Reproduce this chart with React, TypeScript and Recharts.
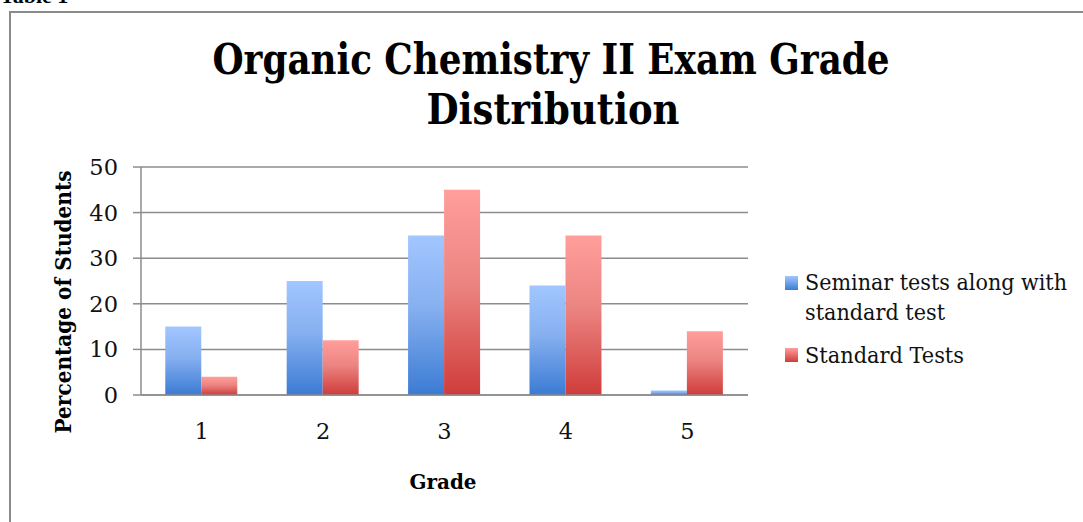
import React from "react";
import { BarChart, Bar, XAxis, YAxis, CartesianGrid } from "recharts";

const grades = ["1", "2", "3", "4", "5"];
const seminarValues = [15, 25, 35, 24, 1];
const standardValues = [4, 12, 45, 35, 14];
const yTicks = [0, 10, 20, 30, 40, 50];

const data = grades.map((g, i) => ({ grade: g, seminar: seminarValues[i], standard: standardValues[i] }));

const FONT = "'DejaVu Serif', 'Liberation Serif', serif";

export default function App() {
  return (
    <div style={{ position: "absolute", left: 0, top: 0, width: 1083, height: 522, overflow: "hidden", background: "#fff" }}>
      <div style={{ position: "absolute", left: 0, top: -15, fontFamily: "'Liberation Serif', serif", fontWeight: "bold", fontSize: 22, lineHeight: "22px" }}>Table 1</div>
      <div style={{ position: "absolute", left: 9, top: 11, width: 1200, height: 600, border: "2px solid #8a8a8a", boxSizing: "border-box" }} />
      <div style={{ position: "absolute", left: 0, top: 0 }}>
        <BarChart width={1083} height={522} data={data} margin={{ top: 167, right: 335, bottom: 97, left: 81 }} barCategoryGap="20%" barGap={0}>
          <defs>
            <linearGradient id="gBlue" x1="0" y1="0" x2="0" y2="1">
              <stop offset="0%" stopColor="#a2c6ff" />
              <stop offset="45%" stopColor="#86b0f0" />
              <stop offset="100%" stopColor="#3b7bd4" />
            </linearGradient>
            <linearGradient id="gRed" x1="0" y1="0" x2="0" y2="1">
              <stop offset="0%" stopColor="#ff9e9b" />
              <stop offset="45%" stopColor="#ec8582" />
              <stop offset="100%" stopColor="#cf3c3a" />
            </linearGradient>
          </defs>
          <CartesianGrid vertical={false} stroke="#8c8c8c" strokeWidth={1.5} />
          <XAxis dataKey="grade" tickLine={false} axisLine={{ stroke: "#8c8c8c", strokeWidth: 1.5 }} tickMargin={22} height={30}
            tick={{ fontFamily: FONT, fontSize: 22.5, fill: "#111" }} />
          <YAxis domain={[0, 50]} ticks={yTicks} width={60} tickSize={8} tickMargin={15}
            tickLine={{ stroke: "#8c8c8c", strokeWidth: 1.5 }} axisLine={{ stroke: "#8c8c8c", strokeWidth: 1.5 }}
            tick={{ fontFamily: FONT, fontSize: 22.5, fill: "#111" }} />
          <Bar dataKey="seminar" fill="url(#gBlue)" isAnimationActive={false} />
          <Bar dataKey="standard" fill="url(#gRed)" isAnimationActive={false} />
        </BarChart>
      </div>
      <svg width={1083} height={522} style={{ position: "absolute", left: 0, top: 0, pointerEvents: "none" }}>
        <g fontFamily={FONT} fontWeight="bold" fill="#000">
          <text x={551} y={74} textAnchor="middle" fontSize={42} textLength={677} lengthAdjust="spacingAndGlyphs">Organic Chemistry II Exam Grade</text>
          <text x={553} y={124} textAnchor="middle" fontSize={42} textLength={253} lengthAdjust="spacingAndGlyphs">Distribution</text>
          <text x={443} y={489} textAnchor="middle" fontSize={21} textLength={67} lengthAdjust="spacingAndGlyphs">Grade</text>
          <text transform="translate(71,302) rotate(-90)" textAnchor="middle" fontSize={23} textLength={263} lengthAdjust="spacingAndGlyphs">Percentage of Students</text>
        </g>
        <defs>
          <linearGradient id="lgBlue" x1="0" y1="0" x2="0" y2="1">
            <stop offset="0%" stopColor="#a2c6ff" />
            <stop offset="100%" stopColor="#3b7bd4" />
          </linearGradient>
          <linearGradient id="lgRed" x1="0" y1="0" x2="0" y2="1">
            <stop offset="0%" stopColor="#ff9e9b" />
            <stop offset="100%" stopColor="#cf3c3a" />
          </linearGradient>
        </defs>
        <rect x={785} y={276} width={13} height={14} fill="url(#lgBlue)" />
        <rect x={785} y={348} width={13} height={14} fill="url(#lgRed)" />
        <g fontFamily={FONT} fontSize={22} fill="#111">
          <text x={805} y={290} textLength={262} lengthAdjust="spacingAndGlyphs">Seminar tests along with</text>
          <text x={805} y={320} textLength={140} lengthAdjust="spacingAndGlyphs">standard test</text>
          <text x={805} y={363} textLength={159} lengthAdjust="spacingAndGlyphs">Standard Tests</text>
        </g>
      </svg>
    </div>
  );
}
